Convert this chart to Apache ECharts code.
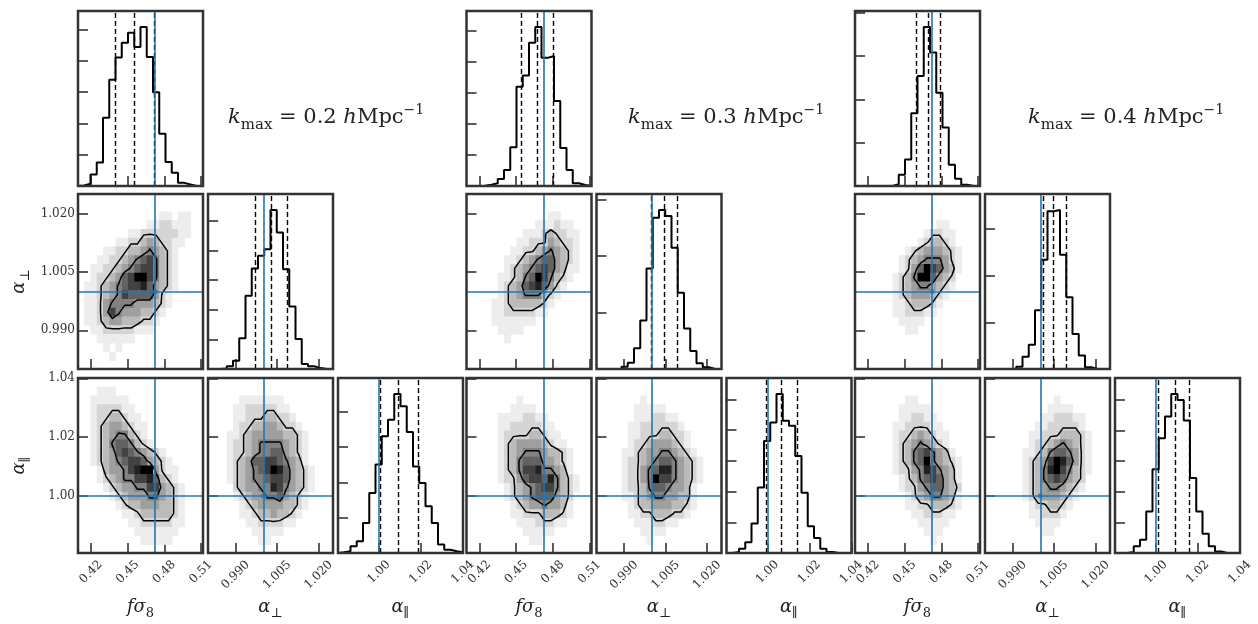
<!DOCTYPE html>
<html><head><meta charset="utf-8">
<script src="https://cdn.jsdelivr.net/npm/echarts@6/dist/echarts.min.js"></script>
<style>html,body{margin:0;padding:0;background:#fff}#c{width:1258px;height:624px}</style>
</head><body><div id="c"></div>
<script>
// ---------------- DATA ----------------
const KMAX = ['0.2', '0.3', '0.4'];
const RANGE_FS8 = [0.4094, 0.5116];
const RANGE_APERP = [0.9800, 1.0252];
const RANGE_APAR = [0.9805, 1.0401];
const TICKS_FS8 = [0.42, 0.45, 0.48, 0.51];
const TICKLABELS_FS8 = ['0.42', '0.45', '0.48', '0.51'];
const TICKS_APERP = [0.990, 1.005, 1.020];
const TICKLABELS_APERP = ['0.990', '1.005', '1.020'];
const TICKS_APAR = [1.00, 1.02, 1.04];
const TICKLABELS_APAR = ['1.00', '1.02', '1.04'];
const TRUTH = [0.4725, 1.0, 1.0];
const N_BINS = 20;
const HIST_TICK_STEP = 100;
const CONTOUR_LEVELS = [2.2, 4.8];

// 1D histograms (20 bins over the axis range), counts
const HIST_FS8_K02 = [2,7,37,75,218,340,411,458,490,445,509,413,300,167,77,42,10,5,0,0];
const HIST_APERP_K02 = [0,0,2,9,28,104,247,339,382,404,537,461,337,211,101,17,9,3,0,0];
const HIST_APAR_K02 = [2,5,19,33,85,170,250,330,377,450,415,342,245,198,132,85,24,9,5,2];
const HIST_FS8_K03 = [0,0,1,4,9,23,52,125,321,357,463,514,414,420,275,123,52,9,3,0];
const HIST_APERP_K03 = [0,0,0,0,4,11,37,86,178,268,282,271,215,135,72,32,10,3,0,0];
const HIST_APAR_K03 = [0,3,14,35,96,213,365,425,518,431,414,316,196,87,49,14,3,0,0,0];
const HIST_FS8_K04 = [0,0,0,0,0,0,4,26,61,168,254,367,308,215,135,49,17,3,0,0];
const HIST_APERP_K04 = [0,0,0,0,0,5,26,52,126,234,338,341,245,154,75,29,4,0,0,0];
const HIST_APAR_K04 = [0,0,3,22,43,136,274,375,446,520,500,433,245,136,63,22,5,0,0,0];

// 16/50/84 percentiles
const Q_FS8_K02 = [0.4396, 0.4552, 0.4715];
const Q_APERP_K02 = [0.9970, 1.0030, 1.0085];
const Q_APAR_K02 = [1.0008, 1.0094, 1.0188];
const Q_FS8_K03 = [0.4545, 0.4673, 0.4804];
const Q_APERP_K03 = [0.9998, 1.0044, 1.0092];
const Q_APAR_K03 = [0.9995, 1.0067, 1.0143];
const Q_FS8_K04 = [0.4598, 0.4693, 0.4789];
const Q_APERP_K04 = [1.0011, 1.0048, 1.0093];
const Q_APAR_K04 = [1.0013, 1.0093, 1.0161];

// 2D densities, 20x20, row 0 = top, digit = relative density 0..9
const D_FS8_APERP_K02 = [
"00000000000000000000","00000000000000000000","00000000000001101100","00000000000112211100",
"00000000112222221100","00000011223432211000","00001122334543210000","00011223456753210000",
"00112234567753210000","00122346799753210000","01123456778643210000","01123457666642100000",
"01124555544432100000","01124754443321000000","01123443332210000000","00112222211100000000",
"00011111100000000000","00001010000000000000","00000100000000000000","00000000000000000000"];
const D_FS8_APAR_K02 = [
"00000000000000000000","00011100000000000000","00111111000000000000","00122221100000000000",
"00122332110000000000","00123443211000000000","00123455321000000000","00123566532100000000",
"00123467654321000000","00123456776432100000","00013445789942110000","00012345577863210000",
"00001234455774321000","00000123444554321000","00000012334443321000","00000001123333321000",
"00000000112222211000","00000000011111110000","00000000001111100000","00000000000000000000"];
const D_APERP_APAR_K02 = [
"00000000000000000000","00000000000000000000","00000111111100000000","00001122222110000000",
"00001122233221000000","00001223344322100000","00011234444433210000","00012234555543210000",
"00012234556643210000","00012346677654310000","00012345679864321000","00012345567764321000",
"00002344558754321000","00001234455643210000","00000123444433210000","00000112334332100000",
"00000011222211000000","00000001111100000000","00000000110000000000","00000000000000000000"];
const D_FS8_APERP_K03 = [
"00000000000000000000","00000000000000000000","00000000000001100000","00000000000111211000",
"00000000011123221100","00000000112224322100","00000001122345432100","00000011234566432100",
"00000012345676431100","00000112356975321000","00000123467864210000","00000123455532100000",
"00001123333321000000","00001122222110000000","00001111111000000000","00000111100000000000",
"00000010000000000000","00000000000000000000","00000000000000000000","00000000000000000000"];
const D_FS8_APAR_K03 = [
"00000000000000000000","00000000000000000000","00000000100000000000","00000001111000000000",
"00000111122110000000","00000112222211000000","00000122223321100000","00000123444432110000",
"00000123455543321000","00000123566644321000","00000123577855431000","00000122467768532100",
"00000012345677532100","00000012345666432000","00000001234454431000","00000001122233321000",
"00000000111222110000","00000000011111000000","00000000001100000000","00000000000000000000"];
const D_APERP_APAR_K03 = [
"00000000000000000000","00000000000000000000","00000001000000000000","00000011111000000000",
"00000011122110000000","00000112222221000000","00000112223322100000","00000122344432100000",
"00001123445543210000","00001223456654321000","00001224568854321000","00001224597754321000",
"00001223566544310000","00001123455443310000","00000123344433210000","00000112233322100000",
"00000011122110000000","00000001111000000000","00000000100000000000","00000000000000000000"];
const D_FS8_APERP_K04 = [
"00000000000000000000","00000000000000000000","00000000000000000000","00000000000001100000",
"00000000000122110000","00000000001233210000","00000000123444321000","00000001234555421000",
"00000001246976431000","00000012359964320000","00000012345543210000","00000012344432100000",
"00000011233321000000","00000011222110000000","00000001111000000000","00000000110000000000",
"00000000000000000000","00000000000000000000","00000000000000000000","00000000000000000000"];
const D_FS8_APAR_K04 = [
"00000000000000000000","00000000000000000000","00000000110000000000","00000001111100000000",
"00000001122110000000","00000011222211000000","00000012234321100000","00000012345432100000",
"00000012356754310000","00000012356954321000","00000012245875431000","00000001235676431000",
"00000001224566432000","00000000123455431000","00000000112233321000","00000000011222110000",
"00000000001111100000","00000000000111000000","00000000000010000000","00000000000000000000"];
const D_APERP_APAR_K04 = [
"00000000000000000000","00000000000000000000","00000000000100000000","00000000001111000000",
"00000000011222110000","00000000112222210000","00000001122233321000","00000001223454321000",
"00000011235665421000","00000012347986421000","00000012358975321000","00000012356764320000",
"00000012345543210000","00000012344432100000","00000001223321000000","00000001122210000000",
"00000000111100000000","00000000011000000000","00000000000000000000","00000000000000000000"];

// ---------------- ASSEMBLY ----------------
const RANGES = [RANGE_FS8, RANGE_APERP, RANGE_APAR];
const TICKS = [TICKS_FS8, TICKS_APERP, TICKS_APAR];
const TICKLABELS = [TICKLABELS_FS8, TICKLABELS_APERP, TICKLABELS_APAR];
const CORNERS = [
  { hist: [HIST_FS8_K02, HIST_APERP_K02, HIST_APAR_K02], q: [Q_FS8_K02, Q_APERP_K02, Q_APAR_K02],
    dens: { '1_0': D_FS8_APERP_K02, '2_0': D_FS8_APAR_K02, '2_1': D_APERP_APAR_K02 } },
  { hist: [HIST_FS8_K03, HIST_APERP_K03, HIST_APAR_K03], q: [Q_FS8_K03, Q_APERP_K03, Q_APAR_K03],
    dens: { '1_0': D_FS8_APERP_K03, '2_0': D_FS8_APAR_K03, '2_1': D_APERP_APAR_K03 } },
  { hist: [HIST_FS8_K04, HIST_APERP_K04, HIST_APAR_K04], q: [Q_FS8_K04, Q_APERP_K04, Q_APAR_K04],
    dens: { '1_0': D_FS8_APERP_K04, '2_0': D_FS8_APAR_K04, '2_1': D_APERP_APAR_K04 } }
];

// layout / style
const PANEL_W = 125, PANEL_H = 175;
const CORNER_LEFT = [78, 466.5, 855];
const COL_STEP = 130;
const ROW_TOP = [11, 194, 378];
const TITLE_X = [228, 628, 1028];
const FONT = 'DejaVu Serif';
const INK = '#333';
const BLUE = '#1f77b4';

function labelFmt(ticks, labels) {
  return v => { for (let i = 0; i < ticks.length; i++) if (Math.abs(v - ticks[i]) < 1e-9) return labels[i]; return ''; };
}
function shade(d) { const g = Math.round(255 * (1 - Math.pow(d / 9, 1.2))); return 'rgb(' + g + ',' + g + ',' + g + ')'; }

function contourPolylines(vals, T) {
  const R = vals.length, C = vals[0].length;
  const P = [];
  for (let r = 0; r < R + 2; r++) {
    const row = [];
    for (let c = 0; c < C + 2; c++) row.push(r >= 1 && r <= R && c >= 1 && c <= C ? vals[r - 1][c - 1] : 0);
    P.push(row);
  }
  const pts = {}, segs = [];
  const ek = (t, r, c) => {
    const k = t + r + '_' + c;
    if (!pts[k]) {
      if (t === 'h') { const a = P[r][c], b = P[r][c + 1]; pts[k] = [r, c + (T - a) / (b - a)]; }
      else { const a = P[r][c], b = P[r + 1][c]; pts[k] = [r + (T - a) / (b - a), c]; }
    }
    return k;
  };
  for (let r = 0; r < R + 1; r++) for (let c = 0; c < C + 1; c++) {
    const a = P[r][c], b = P[r][c + 1], d2 = P[r + 1][c + 1], e = P[r + 1][c];
    const idx = (a > T ? 8 : 0) | (b > T ? 4 : 0) | (d2 > T ? 2 : 0) | (e > T ? 1 : 0);
    if (idx === 0 || idx === 15) continue;
    const top = () => ek('h', r, c), bot = () => ek('h', r + 1, c), lef = () => ek('v', r, c), rig = () => ek('v', r, c + 1);
    const add = (k1, k2) => segs.push([k1, k2]);
    const ctr = (a + b + d2 + e) / 4 > T;
    switch (idx) {
      case 1: case 14: add(lef(), bot()); break;
      case 2: case 13: add(bot(), rig()); break;
      case 3: case 12: add(lef(), rig()); break;
      case 4: case 11: add(top(), rig()); break;
      case 6: case 9: add(top(), bot()); break;
      case 7: case 8: add(lef(), top()); break;
      case 5: if (ctr) { add(lef(), top()); add(bot(), rig()); } else { add(lef(), bot()); add(top(), rig()); } break;
      case 10: if (ctr) { add(top(), rig()); add(lef(), bot()); } else { add(lef(), top()); add(bot(), rig()); } break;
    }
  }
  const adj = {};
  segs.forEach((s, i) => { (adj[s[0]] = adj[s[0]] || []).push(i); (adj[s[1]] = adj[s[1]] || []).push(i); });
  const used = new Array(segs.length).fill(false);
  const out = [];
  for (let i = 0; i < segs.length; i++) {
    if (used[i]) continue;
    used[i] = true;
    const path = [segs[i][0], segs[i][1]];
    let cur = segs[i][1];
    while (true) {
      const nx = (adj[cur] || []).find(j => !used[j]);
      if (nx === undefined) break;
      used[nx] = true; cur = segs[nx][0] === cur ? segs[nx][1] : segs[nx][0]; path.push(cur);
    }
    cur = segs[i][0];
    while (true) {
      const nx = (adj[cur] || []).find(j => !used[j]);
      if (nx === undefined) break;
      used[nx] = true; cur = segs[nx][0] === cur ? segs[nx][1] : segs[nx][0]; path.unshift(cur);
    }
    out.push(path.map(k => pts[k]));
  }
  return out;
}

const grids = [], xAxes = [], yAxes = [], series = [], graphics = [];
const tickLine = { color: INK, width: 1.6 };

CORNERS.forEach((corner, ci) => {
  for (let row = 0; row < 3; row++) for (let col = 0; col <= row; col++) {
    const g = grids.length;
    const left = CORNER_LEFT[ci] + col * COL_STEP, top = ROW_TOP[row];
    grids.push({ left: left, top: top, width: PANEL_W, height: PANEL_H, show: false, containLabel: false });
    graphics.push({ type: 'rect', shape: { x: left, y: top, width: PANEL_W, height: PANEL_H }, style: { fill: 'none', stroke: INK, lineWidth: 2.5 }, z: 100, silent: true });
    const xr = RANGES[col];
    xAxes.push({
      gridIndex: g, type: 'value', min: xr[0], max: xr[1],
      axisLine: { show: false }, splitLine: { show: false },
      axisTick: { show: true, inside: true, length: 10, customValues: TICKS[col], lineStyle: tickLine },
      axisLabel: { show: row === 2, customValues: TICKS[col], formatter: labelFmt(TICKS[col], TICKLABELS[col]),
        rotate: 45, align: 'center', verticalAlign: 'middle', margin: col === 1 ? 22 : 19,
        fontFamily: FONT, fontSize: 12, color: INK }
    });
    if (row === col) {
      const h = corner.hist[col];
      const ymax = 1.1 * Math.max.apply(null, h);
      const hticks = [];
      for (let t = HIST_TICK_STEP; t < ymax; t += HIST_TICK_STEP) hticks.push(t);
      yAxes.push({
        gridIndex: g, type: 'value', min: 0, max: ymax,
        axisLine: { show: false }, splitLine: { show: false },
        axisTick: { show: true, inside: true, length: 10, customValues: hticks, lineStyle: tickLine },
        axisLabel: { show: false }
      });
      const edges = [];
      for (let i = 0; i <= N_BINS; i++) edges.push(xr[0] + i * (xr[1] - xr[0]) / N_BINS);
      const pts = [[edges[0], 0]];
      h.forEach((v, i) => pts.push([edges[i], v]));
      pts.push([edges[N_BINS], h[N_BINS - 1]]);
      pts.push([edges[N_BINS], 0]);
      series.push({
        type: 'line', xAxisIndex: g, yAxisIndex: g, data: pts, step: 'end', symbol: 'none', silent: true, z: 3,
        lineStyle: { color: '#000', width: 2 },
        markLine: {
          silent: true, symbol: ['none', 'none'], label: { show: false }, animation: false, precision: 8,
          data: corner.q[col].map(v => ({ xAxis: v, lineStyle: { color: '#000', width: 1.4, type: [5, 3] } }))
            .concat([{ xAxis: TRUTH[col], lineStyle: { color: BLUE, width: 1.6, type: 'solid' } }])
        }
      });
    } else {
      const yr = RANGES[row];
      yAxes.push({
        gridIndex: g, type: 'value', min: yr[0], max: yr[1],
        axisLine: { show: false }, splitLine: { show: false },
        axisTick: { show: true, inside: true, length: 10, customValues: TICKS[row], lineStyle: tickLine },
        axisLabel: { show: ci === 0 && col === 0, customValues: TICKS[row], formatter: labelFmt(TICKS[row], TICKLABELS[row]),
          margin: 3, fontFamily: FONT, fontSize: 12, color: INK }
      });
      const dens = corner.dens[row + '_' + col];
      const dx = (xr[1] - xr[0]) / N_BINS, dy = (yr[1] - yr[0]) / N_BINS;
      const vals = dens.map(s => s.split('').map(Number));
      const cells = [];
      vals.forEach((rowVals, r) => rowVals.forEach((d, c) => {
        if (d > 0) { const x0 = xr[0] + c * dx, y1 = yr[1] - r * dy; cells.push([x0, x0 + dx, y1 - dy, y1, d]); }
      }));
      series.push({
        type: 'custom', xAxisIndex: g, yAxisIndex: g, data: cells, silent: true, z: 1,
        encode: { x: [0, 1], y: [2, 3] },
        renderItem: (params, api) => {
          const p0 = api.coord([api.value(0), api.value(3)]);
          const p1 = api.coord([api.value(1), api.value(2)]);
          return { type: 'rect', shape: { x: p0[0], y: p0[1], width: p1[0] - p0[0] + 0.6, height: p1[1] - p0[1] + 0.6 },
            style: { fill: shade(api.value(4)) } };
        }
      });
      const lines = [];
      CONTOUR_LEVELS.forEach(T => contourPolylines(vals, T).forEach(path => lines.push({
        coords: path.map(p => [xr[0] + (p[1] - 0.5) * dx, yr[1] - (p[0] - 0.5) * dy])
      })));
      series.push({
        type: 'lines', coordinateSystem: 'cartesian2d', xAxisIndex: g, yAxisIndex: g, polyline: true, silent: true, z: 3,
        data: lines, lineStyle: { color: '#000', width: 1.5, opacity: 1 }
      });
      series.push({
        type: 'scatter', xAxisIndex: g, yAxisIndex: g, data: [[TRUTH[col], TRUTH[row]]], symbol: 'circle', symbolSize: 5,
        itemStyle: { color: BLUE }, silent: true, z: 5,
        markLine: { silent: true, symbol: ['none', 'none'], label: { show: false }, animation: false, precision: 8,
          lineStyle: { color: BLUE, width: 1.6, type: 'solid' },
          data: [{ xAxis: TRUTH[col] }, { yAxis: TRUTH[row] }] }
      });
    }
  }
  // title
  graphics.push({
    type: 'text', x: TITLE_X[ci], y: 118, z: 50, silent: true,
    style: {
      text: '{i|k}{s|max}{r| = ' + KMAX[ci] + ' }{i|h}{r|Mpc}{p|\u22121}',
      align: 'left', verticalAlign: 'middle',
      rich: {
        i: { fontFamily: FONT, fontSize: 21, fontStyle: 'italic', lineHeight: 30, fill: '#222' },
        r: { fontFamily: FONT, fontSize: 21, lineHeight: 30, fill: '#222' },
        s: { fontFamily: FONT, fontSize: 15, lineHeight: 15, verticalAlign: 'bottom', fill: '#222' },
        p: { fontFamily: FONT, fontSize: 14, lineHeight: 14, verticalAlign: 'top', fill: '#222' }
      }
    }
  });
  // bottom axis names
  const names = ['{i|f\u03c3}{s|8}', '{i|\u03b1}{s|\u22a5}', '{i|\u03b1}{s|\u2225}'];
  names.forEach((t, col) => graphics.push({
    type: 'text', x: CORNER_LEFT[ci] + col * COL_STEP + PANEL_W / 2, y: 607, z: 50, silent: true,
    style: { text: t, align: 'center', verticalAlign: 'middle', rich: {
      i: { fontFamily: FONT, fontSize: 18, fontStyle: 'italic', lineHeight: 26, fill: '#222' },
      s: { fontFamily: FONT, fontSize: 13, lineHeight: 13, verticalAlign: 'bottom', fill: '#222' } } }
  }));
});
// left axis names (first corner only)
[['{i|\u03b1}{s|\u22a5}', ROW_TOP[1] + PANEL_H / 2], ['{i|\u03b1}{s|\u2225}', ROW_TOP[2] + PANEL_H / 2]].forEach(([t, y]) => graphics.push({
  type: 'text', x: 19, y: y, rotation: Math.PI / 2, z: 50, silent: true,
  style: { text: t, align: 'center', verticalAlign: 'middle', rich: {
    i: { fontFamily: FONT, fontSize: 18, fontStyle: 'italic', lineHeight: 26, fill: '#222' },
    s: { fontFamily: FONT, fontSize: 13, lineHeight: 13, verticalAlign: 'bottom', fill: '#222' } } }
}));

const chart = echarts.init(document.getElementById('c'), null, { renderer: 'canvas' });
chart.setOption({
  animation: false, backgroundColor: '#fff',
  grid: grids, xAxis: xAxes, yAxis: yAxes, series: series, graphic: graphics
});
</script></body></html>
